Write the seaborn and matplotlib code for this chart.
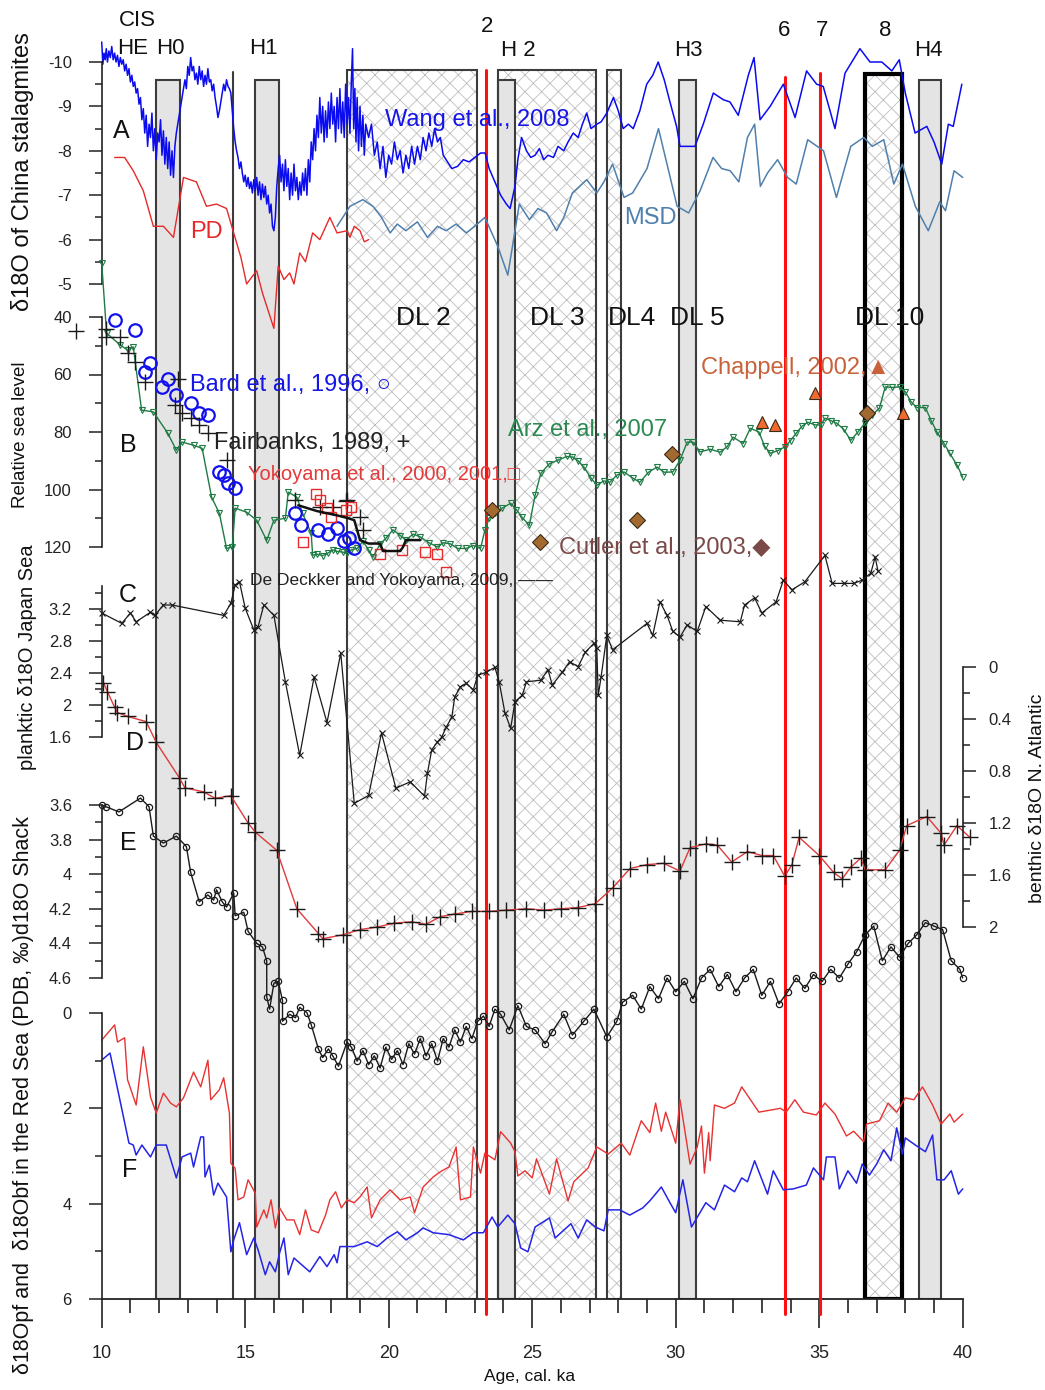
import matplotlib
matplotlib.use("Agg")
import numpy as np
import pandas as pd
import seaborn as sns
import matplotlib.pyplot as plt
from matplotlib.ticker import MultipleLocator, FormatStrFormatter

# ---------------- data (age in ka) ----------------
# A: China stalagmites (Wang et al., 2008), MSD and PD
wang_age = [10.0, 10.04, 10.08, 10.12, 10.16, 10.2, 10.25, 10.3, 10.35, 10.4, 10.45, 10.5, 10.55, 10.6, 10.65, 10.7,
            10.75, 10.8, 10.85, 10.9, 10.95, 11.0, 11.05, 11.1, 11.15, 11.2, 11.25, 11.3, 11.35, 11.4, 11.45, 11.5,
            11.55, 11.6, 11.65, 11.7, 11.75, 11.8, 11.85, 11.9, 11.95, 12.0, 12.05, 12.1, 12.15, 12.2, 12.25, 12.3,
            12.35, 12.4, 12.45, 12.5, 12.55, 12.6, 12.7, 12.8, 12.9, 12.95, 13.0, 13.05, 13.1, 13.15, 13.2, 13.25,
            13.3, 13.35, 13.4, 13.45, 13.5, 13.55, 13.6, 13.65, 13.7, 13.75, 13.8, 13.85, 13.9, 13.95, 14.0, 14.05,
            14.1, 14.15, 14.2, 14.25, 14.3, 14.35, 14.4, 14.45, 14.5, 14.55, 14.6, 14.65, 14.7, 14.75, 14.8, 14.85,
            14.9, 14.95, 15.0, 15.05, 15.1, 15.15, 15.2, 15.25, 15.3, 15.35, 15.4, 15.45, 15.5, 15.55, 15.6, 15.65,
            15.7, 15.75, 15.8, 15.85, 15.9, 15.95, 16.0, 16.05, 16.1, 16.15, 16.2, 16.25, 16.3, 16.35, 16.4, 16.45,
            16.5, 16.55, 16.6, 16.65, 16.7, 16.75, 16.8, 16.85, 16.9, 16.95, 17.0, 17.05, 17.1, 17.15, 17.2, 17.25,
            17.3, 17.35, 17.4, 17.45, 17.5, 17.55, 17.6, 17.65, 17.7, 17.75, 17.8, 17.85, 17.9, 17.95, 18.0, 18.05,
            18.1, 18.15, 18.2, 18.25, 18.3, 18.35, 18.4, 18.45, 18.5, 18.55, 18.6, 18.65, 18.7, 18.74, 18.78, 18.82,
            18.86, 18.9, 18.95, 19.0, 19.05, 19.1, 19.15, 19.2, 19.3, 19.4, 19.5, 19.6, 19.7, 19.8, 19.9, 20.0,
            20.1, 20.2, 20.3, 20.4, 20.5, 20.6, 20.7, 20.8, 20.9, 21.0, 21.1, 21.2, 21.3, 21.4, 21.5, 21.6,
            21.7, 21.8, 21.9, 22.0, 22.1, 22.2, 22.4, 22.6, 22.8, 23.0, 23.2, 23.36, 23.5, 23.7, 23.9, 24.1,
            24.23, 24.4, 24.5, 24.63, 24.8, 24.95, 25.1, 25.25, 25.4, 25.55, 25.74, 25.9, 26.1, 26.25, 26.43, 26.6,
            26.75, 26.9, 27.05, 27.25, 27.4, 27.6, 27.83, 28.0, 28.17, 28.35, 28.52, 28.75, 28.99, 29.2, 29.39, 29.6,
            29.8, 30.03, 30.15, 30.4, 30.67, 30.96, 31.31, 31.66, 31.89, 32.18, 32.53, 32.73, 32.94, 33.29, 33.75, 34.16,
            34.56, 34.91, 35.14, 35.55, 35.9, 36.42, 36.77, 37.18, 37.53, 37.79, 38.0, 38.34, 38.75, 39.0, 39.27, 39.5,
            39.67, 39.97]
wang_val = [-10.45, -9.95, -10.2, -10.05, -10.3, -10.0, -10.25, -10.1, -10.35, -10.05, -10.2, -10.0, -10.15, -9.9, -10.1, -9.95,
            -10.05, -9.8, -9.95, -9.7, -9.85, -9.55, -9.7, -9.45, -9.55, -9.3, -9.4, -9.05, -9.2, -8.7, -8.95, -8.4,
            -8.8, -8.1, -8.6, -8.3, -8.85, -8.0, -8.5, -7.8, -8.4, -8.2, -8.7, -7.9, -8.45, -7.7, -8.3, -7.6,
            -8.2, -7.45, -8.0, -7.4, -8.1, -8.4, -8.8, -9.2, -9.6, -9.4, -9.9, -9.7, -10.1, -9.8, -9.9, -9.6,
            -9.75, -9.5, -9.9, -9.6, -9.8, -9.45, -9.7, -9.5, -9.85, -9.55, -9.6, -9.35, -9.5, -9.2, -9.0, -8.75,
            -8.9, -9.1, -9.3, -9.5, -9.35, -9.6, -9.45, -9.4, -9.3, -8.9, -8.5, -8.2, -8.0, -7.85, -7.6, -7.75,
            -7.5, -7.3, -7.45, -7.2, -7.4, -7.15, -7.3, -7.05, -7.35, -7.1, -7.4, -7.0, -7.3, -6.9, -7.25, -6.95,
            -7.2, -6.8, -7.0, -6.6, -6.8, -6.3, -6.2, -6.5, -7.2, -7.6, -7.9, -7.3, -7.7, -7.1, -7.8, -7.2,
            -7.6, -6.9, -7.5, -7.0, -7.7, -7.1, -7.4, -6.9, -7.3, -7.0, -7.5, -7.1, -7.6, -7.0, -7.8, -7.3,
            -8.2, -7.8, -8.5, -8.0, -8.8, -8.3, -9.2, -8.4, -9.0, -8.2, -8.9, -8.3, -9.1, -8.5, -9.3, -8.6,
            -9.0, -8.2, -9.2, -8.5, -9.4, -8.4, -9.1, -8.3, -9.5, -8.6, -9.2, -8.4, -9.6, -10.3, -8.5, -9.4,
            -8.2, -9.2, -8.0, -9.0, -8.1, -8.8, -7.9, -8.6, -8.3, -8.6, -7.9, -8.2, -7.6, -8.1, -7.4, -7.9,
            -7.7, -8.2, -7.8, -8.0, -7.5, -7.9, -7.6, -8.1, -7.7, -8.1, -7.8, -8.3, -8.0, -8.4, -8.1, -8.5,
            -8.2, -8.3, -7.9, -7.8, -7.7, -7.6, -7.65, -7.8, -7.75, -7.85, -7.95, -7.95, -7.6, -7.3, -7.0, -6.8,
            -6.7, -7.2, -7.8, -8.3, -8.0, -7.85, -7.9, -8.05, -7.8, -7.9, -7.85, -8.1, -8.0, -8.2, -8.4, -8.3,
            -8.6, -8.85, -8.5, -8.6, -8.65, -8.85, -9.2, -8.9, -8.5, -8.6, -8.5, -8.9, -9.5, -9.7, -10.0, -9.6,
            -9.1, -8.55, -8.1, -8.1, -8.1, -8.6, -9.3, -9.15, -9.1, -8.8, -9.7, -10.1, -8.7, -9.0, -9.5, -8.75,
            -9.8, -9.5, -9.45, -8.5, -9.75, -10.3, -10.0, -10.0, -9.8, -10.05, -9.3, -8.4, -8.55, -8.2, -7.7, -8.6,
            -8.55, -9.5]

msd_age = [18.2, 18.65, 19.1, 19.45, 19.75, 20.05, 20.3, 20.6, 21.0, 21.35, 21.7, 22.0, 22.35, 22.7, 23.0, 23.35,
           23.8, 24.15, 24.55, 24.9, 25.2, 25.5, 25.85, 26.1, 26.4, 26.9, 27.25, 27.5, 27.8, 28.2, 28.5, 29.0,
           29.4, 30.05, 30.45, 30.85, 31.3, 31.6, 31.9, 32.2, 32.5, 32.75, 32.95, 33.2, 33.55, 33.9, 34.2, 34.6,
           35.15, 35.6, 36.1, 36.55, 36.85, 37.25, 37.6, 37.9, 38.35, 38.8, 39.2, 39.4, 39.7, 40.0]
msd_val = [-6.3, -6.75, -6.9, -6.75, -6.5, -6.15, -6.35, -6.2, -6.4, -6.05, -6.3, -6.2, -6.35, -6.15, -6.3, -6.5,
           -5.85, -5.2, -6.8, -6.45, -6.7, -6.6, -6.2, -6.5, -7.05, -7.35, -7.05, -7.3, -7.7, -6.95, -7.05, -7.6,
           -8.5, -6.75, -6.6, -7.1, -7.85, -7.6, -7.55, -7.3, -8.3, -8.6, -7.2, -7.5, -7.8, -7.4, -7.25, -8.25,
           -8.0, -6.95, -8.1, -8.3, -8.1, -8.25, -7.25, -7.7, -6.75, -6.2, -6.85, -6.65, -7.55, -7.4]

pd_age = [10.45, 10.8, 11.1, 11.45, 11.8, 12.15, 12.5, 12.85, 13.3, 13.65, 14.0, 14.35, 14.6, 14.85, 15.05, 15.4,
          15.6, 15.75, 16.0, 16.15, 16.35, 16.55, 16.7, 16.9, 17.1, 17.35, 17.6, 17.95, 18.2, 18.55, 18.65, 18.8,
          19.0, 19.15, 19.3]
pd_val = [-7.85, -7.85, -7.55, -7.1, -6.3, -6.3, -6.05, -7.4, -7.3, -6.75, -6.8, -6.7, -6.15, -5.6, -5.0, -5.3,
          -4.8, -4.5, -4.0, -5.4, -5.1, -5.25, -5.0, -5.7, -5.5, -6.15, -6.0, -6.5, -6.15, -6.2, -6.05, -6.3,
          -6.2, -5.95, -6.0]

# B: relative sea level
arz_age = [10.0, 10.17, 10.65, 10.9, 11.1, 11.39, 11.8, 12.3, 12.6, 12.8, 13.2, 13.5, 13.83, 14.1, 14.35, 14.55,
           14.65, 15.05, 15.4, 15.75, 16.0, 16.4, 16.5, 16.8, 17.0, 17.3, 17.35, 17.5, 17.7, 17.9, 18.05, 18.2,
           18.4, 18.55, 18.7, 18.9, 19.1, 19.3, 19.45, 19.7, 19.9, 20.15, 20.4, 20.6, 20.85, 21.1, 21.4, 21.7,
           21.9, 22.15, 22.4, 22.7, 22.95, 23.2, 23.35, 23.5, 23.7, 23.95, 24.25, 24.45, 24.65, 24.9, 25.1, 25.3,
           25.6, 25.9, 26.2, 26.4, 26.6, 26.8, 27.05, 27.25, 27.5, 27.7, 27.95, 28.2, 28.5, 28.75, 29.05, 29.35,
           29.6, 29.9, 30.15, 30.4, 30.6, 30.85, 31.2, 31.55, 31.8, 32.0, 32.35, 32.6, 32.9, 33.1, 33.3, 33.55,
           33.8, 34.0, 34.2, 34.4, 34.6, 34.85, 35.05, 35.2, 35.4, 35.6, 35.85, 36.1, 36.35, 36.6, 36.85, 37.1,
           37.3, 37.55, 37.8, 38.0, 38.2, 38.4, 38.7, 38.9, 39.1, 39.35, 39.55, 39.8, 40.0]
arz_val = [21.2, 45.6, 49.8, 51.5, 50.4, 72.4, 73.0, 80.4, 86.3, 83.5, 84.6, 85.7, 102.7, 108.3, 120.5, 120.0,
           106.5, 107.9, 110.7, 117.7, 110.7, 110.0, 100.9, 102.7, 108.3, 115.3, 122.9, 122.5, 123.0, 122.0, 121.0, 121.5,
           121.8, 122.0, 121.0, 120.5, 118.0, 121.0, 123.5, 119.0, 117.0, 114.0, 116.0, 117.6, 115.5, 116.5, 118.5, 120.0,
           118.5, 118.9, 120.5, 120.5, 119.5, 120.5, 114.2, 110.0, 108.3, 106.5, 104.8, 107.0, 109.7, 112.5, 102.0, 94.4,
           91.0, 89.8, 88.5, 88.7, 90.0, 92.2, 96.0, 98.5, 97.0, 97.5, 95.0, 93.9, 96.0, 97.5, 94.0, 92.2,
           94.0, 93.9, 89.8, 83.5, 83.5, 86.9, 86.0, 87.0, 85.0, 81.8, 84.0, 78.7, 80.0, 85.0, 87.4, 86.5,
           85.2, 83.0, 80.4, 78.0, 76.6, 77.5, 77.6, 75.2, 76.0, 76.9, 79.0, 82.9, 80.0, 76.9, 74.0, 71.7,
           64.3, 64.5, 64.3, 66.0, 69.5, 71.5, 71.5, 76.0, 80.0, 84.0, 87.4, 91.5, 95.7]

bard_age = [10.45, 11.15, 11.7, 11.5, 12.3, 12.1, 12.6, 13.1, 13.4, 13.7, 14.1, 14.25, 14.4, 14.65, 16.75, 16.95,
            17.55, 17.9, 18.2, 18.6, 18.45, 18.8]
bard_val = [41.0, 44.5, 56.0, 59.0, 61.6, 64.4, 67.2, 70.0, 73.5, 74.1, 94.0, 95.0, 97.8, 99.5, 108.3, 112.5,
            114.0, 115.4, 113.3, 117.0, 117.8, 120.5]

fair_age = [9.1, 10.15, 10.15, 10.65, 10.9, 11.15, 11.5, 12.65, 12.55, 12.8, 13.1, 13.4, 13.7, 14.35, 16.75, 17.6,
            18.05, 18.5, 18.55, 19.0, 19.1]
fair_val = [45.0, 44.0, 47.0, 47.0, 52.6, 55.6, 62.6, 61.6, 70.7, 73.5, 75.3, 77.6, 80.5, 89.6, 103.8, 106.2,
            106.0, 104.0, 103.7, 109.6, 114.2]

yoko_age = [17.45, 17.0, 17.6, 17.85, 18.0, 18.5, 18.7, 19.7, 20.45, 21.25, 21.7, 22.0]
yoko_val = [101.4, 118.4, 103.8, 106.6, 109.6, 107.3, 106.0, 122.3, 121.1, 121.8, 122.3, 128.8]

dedeck_age = [16.85, 17.5, 18.2, 18.6, 18.8, 19.0, 19.3, 19.7, 19.8, 20.4, 20.5, 20.6, 21.1]
dedeck_val = [105.5, 107.5, 109.0, 110.0, 110.7, 117.6, 118.8, 118.8, 121.4, 121.4, 120.0, 117.6, 117.6]

cutler_age = [23.59, 25.28, 28.64, 29.86, 36.68]
cutler_val = [107.2, 118.4, 110.7, 87.7, 73.4]

chappell_age = [33.0, 33.45, 34.85, 37.92]
chappell_val = [76.5, 77.6, 66.6, 73.4]

# C: planktic d18O Japan Sea
japan_age = [10.0, 10.7, 11.0, 11.2, 11.7, 11.85, 12.15, 12.45, 14.25, 14.5, 14.65, 14.8, 15.0, 15.3, 15.45, 15.65,
             16.0, 16.4, 16.9, 17.4, 17.85, 18.33, 18.8, 19.3, 19.75, 20.25, 20.75, 21.25, 21.35, 21.5, 21.7, 21.85,
             22.0, 22.2, 22.3, 22.5, 22.7, 22.95, 23.1, 23.4, 23.7, 23.85, 24.05, 24.25, 24.4, 24.65, 24.8, 25.3,
             25.55, 25.7, 26.05, 26.3, 26.6, 26.85, 27.15, 27.25, 27.3, 27.4, 27.6, 27.8, 29.0, 29.2, 29.45, 29.7,
             29.9, 30.15, 30.4, 30.75, 31.05, 31.55, 32.25, 32.4, 32.75, 33.0, 33.5, 33.75, 34.05, 34.5, 35.2, 35.45,
             35.85, 36.2, 36.5, 36.8, 36.95, 37.05]
japan_val = [3.15, 3.02, 3.15, 3.04, 3.16, 3.12, 3.25, 3.25, 3.12, 3.27, 3.5, 3.54, 3.21, 2.94, 2.98, 3.25,
             3.12, 2.29, 1.37, 2.35, 1.78, 2.65, 0.77, 0.87, 1.65, 0.96, 1.04, 0.86, 1.15, 1.44, 1.54, 1.6,
             1.72, 1.85, 2.1, 2.23, 2.27, 2.19, 2.37, 2.41, 2.47, 2.29, 1.9, 1.71, 2.04, 2.12, 2.29, 2.31,
             2.44, 2.25, 2.41, 2.54, 2.48, 2.66, 2.77, 2.71, 2.12, 2.35, 2.87, 2.69, 3.02, 2.87, 3.29, 3.12,
             2.92, 2.85, 3.0, 2.92, 3.23, 3.06, 3.04, 3.25, 3.34, 3.15, 3.29, 3.56, 3.44, 3.54, 3.87, 3.52,
             3.52, 3.52, 3.56, 3.65, 3.85, 3.67]

# D: benthic d18O N. Atlantic
natl_age = [10.06, 10.2, 10.45, 10.55, 10.9, 11.55, 11.9, 12.7, 12.9, 13.55, 13.95, 14.5, 15.1, 15.35, 16.1, 16.8,
            17.55, 17.7, 18.4, 19.0, 19.6, 20.2, 20.8, 21.3, 21.8, 22.3, 22.9, 23.5, 24.1, 24.8, 25.4, 26.0,
            26.6, 27.2, 27.8, 28.41, 29.0, 29.58, 30.15, 30.5, 31.05, 31.45, 31.95, 32.5, 33.0, 33.4, 33.8, 34.05,
            34.3, 35.0, 35.5, 35.8, 36.1, 36.45, 36.6, 37.3, 37.8, 38.05, 38.75, 39.25, 39.35, 39.8, 40.25]
natl_val = [0.12, 0.19, 0.31, 0.35, 0.38, 0.42, 0.58, 0.85, 0.93, 0.96, 1.01, 0.99, 1.2, 1.27, 1.41, 1.86,
            2.05, 2.09, 2.06, 2.02, 2.0, 1.97, 1.96, 1.98, 1.92, 1.9, 1.88, 1.88, 1.87, 1.86, 1.87, 1.86,
            1.85, 1.82, 1.7, 1.55, 1.52, 1.51, 1.57, 1.39, 1.36, 1.37, 1.5, 1.42, 1.45, 1.45, 1.61, 1.52,
            1.31, 1.45, 1.58, 1.63, 1.54, 1.47, 1.56, 1.56, 1.41, 1.22, 1.15, 1.28, 1.37, 1.22, 1.31]

# E: d18O Shackleton
shack_age = [10.0, 10.15, 10.6, 11.35, 11.65, 11.8, 12.15, 12.6, 12.95, 13.1, 13.4, 13.7, 13.9, 14.0, 14.2, 14.35,
             14.6, 14.65, 14.95, 15.1, 15.4, 15.6, 15.75, 15.75, 15.85, 16.0, 16.15, 16.3, 16.3, 16.55, 16.75, 16.9,
             17.15, 17.3, 17.55, 17.7, 17.9, 18.05, 18.25, 18.55, 18.7, 18.9, 19.1, 19.3, 19.5, 19.7, 19.9, 20.1,
             20.3, 20.5, 20.7, 20.9, 21.1, 21.3, 21.5, 21.7, 21.9, 22.1, 22.3, 22.5, 22.7, 22.9, 23.1, 23.3,
             23.5, 23.7, 23.9, 24.2, 24.5, 24.8, 25.1, 25.45, 25.7, 26.1, 26.4, 26.8, 27.15, 27.6, 27.95, 28.15,
             28.5, 28.8, 29.1, 29.4, 29.7, 30.0, 30.3, 30.6, 30.9, 31.2, 31.5, 31.8, 32.1, 32.4, 32.7, 33.0,
             33.3, 33.6, 33.9, 34.2, 34.5, 34.8, 35.1, 35.4, 35.7, 36.0, 36.3, 36.6, 36.9, 37.2, 37.5, 37.8,
             38.1, 38.4, 38.7, 39.0, 39.3, 39.6, 39.9, 40.0]
shack_val = [3.6, 3.61, 3.64, 3.56, 3.61, 3.78, 3.82, 3.78, 3.84, 3.99, 4.16, 4.12, 4.15, 4.09, 4.16, 4.19,
             4.11, 4.24, 4.22, 4.33, 4.4, 4.42, 4.5, 4.71, 4.78, 4.63, 4.62, 4.73, 4.85, 4.81, 4.83, 4.77,
             4.8, 4.87, 5.01, 5.06, 5.01, 5.05, 5.11, 4.97, 5.0, 5.08, 5.02, 5.1, 5.05, 5.12, 5.0, 5.07,
             5.02, 5.1, 4.98, 5.04, 4.95, 5.05, 4.98, 5.08, 4.95, 5.0, 4.9, 4.97, 4.88, 4.95, 4.85, 4.82,
             4.88, 4.78, 4.81, 4.9, 4.76, 4.88, 4.9, 4.98, 4.91, 4.81, 4.93, 4.85, 4.78, 4.94, 4.85, 4.74,
             4.7, 4.78, 4.65, 4.72, 4.6, 4.68, 4.62, 4.72, 4.6, 4.55, 4.65, 4.58, 4.68, 4.6, 4.55, 4.7,
             4.62, 4.75, 4.68, 4.6, 4.66, 4.58, 4.62, 4.55, 4.6, 4.52, 4.45, 4.35, 4.3, 4.5, 4.42, 4.48,
             4.4, 4.35, 4.28, 4.3, 4.32, 4.5, 4.55, 4.6]

# F: Red Sea planktic (pf) and benthic (bf)
pf_age = [10.0, 10.45, 10.55, 10.8, 10.9, 11.2, 11.45, 11.7, 11.9, 12.15, 12.4, 12.6, 12.85, 13.2, 13.45, 13.7,
          13.8, 14.1, 14.25, 14.45, 14.5, 14.65, 14.75, 14.95, 15.1, 15.35, 15.4, 15.65, 15.75, 15.9, 16.05, 16.2,
          16.45, 16.7, 16.9, 17.1, 17.3, 17.55, 17.8, 17.95, 18.15, 18.35, 18.55, 18.8, 19.0, 19.25, 19.4, 19.7,
          20.05, 20.4, 20.75, 20.9, 21.2, 21.55, 21.8, 22.1, 22.35, 22.5, 22.85, 22.95, 23.2, 23.35, 23.7, 23.9,
          24.25, 24.4, 24.5, 24.75, 25.0, 25.15, 25.6, 25.85, 26.25, 26.45, 26.95, 27.25, 27.65, 28.1, 28.4, 28.8,
          29.1, 29.3, 29.5, 29.65, 30.0, 30.15, 30.5, 30.75, 30.9, 31.0, 31.15, 31.2, 31.35, 31.7, 32.05, 32.3,
          32.9, 33.65, 33.85, 34.15, 34.45, 34.9, 35.2, 35.55, 35.95, 36.2, 36.55, 36.65, 37.1, 37.4, 37.7, 38.0,
          38.3, 38.6, 38.95, 39.25, 39.55, 39.7, 40.0]
pf_val = [0.57, 0.25, 0.61, 0.52, 1.4, 1.93, 0.71, 1.76, 2.1, 1.68, 1.89, 1.97, 1.78, 1.24, 1.55, 0.99,
          1.82, 1.61, 1.36, 2.1, 3.15, 3.26, 3.92, 3.86, 3.5, 3.78, 4.49, 4.13, 4.3, 3.92, 4.51, 4.09,
          4.34, 4.34, 4.65, 4.13, 4.55, 4.61, 4.24, 3.92, 3.75, 4.09, 3.92, 3.98, 3.86, 3.65, 4.3, 3.92,
          3.71, 3.92, 3.86, 4.19, 3.65, 3.44, 3.33, 3.23, 2.81, 3.92, 3.86, 2.81, 3.36, 2.94, 3.08, 2.49,
          2.73, 2.91, 3.42, 3.31, 3.46, 3.06, 3.8, 3.06, 3.94, 3.54, 3.25, 2.81, 2.96, 2.73, 2.98, 2.26,
          2.51, 1.89, 2.48, 2.08, 2.73, 1.82, 3.17, 2.81, 2.37, 3.36, 2.51, 3.1, 1.93, 2.0, 1.89, 1.55,
          2.08, 2.0, 2.08, 1.82, 2.08, 2.14, 1.89, 2.12, 2.58, 2.48, 2.7, 2.33, 2.26, 1.89, 2.08, 1.78,
          1.82, 1.55, 1.93, 2.33, 2.12, 2.29, 2.12]

bf_age = [10.0, 10.29, 10.95, 11.1, 11.2, 11.4, 11.7, 11.9, 12.25, 12.6, 12.8, 13.1, 13.2, 13.45, 13.55, 13.6,
          13.75, 13.9, 14.05, 14.35, 14.5, 14.6, 14.8, 15.05, 15.3, 15.45, 15.7, 15.85, 16.05, 16.2, 16.35, 16.5,
          16.7, 17.25, 17.6, 17.85, 18.1, 18.2, 18.3, 18.8, 19.25, 19.6, 19.95, 20.3, 20.6, 21.0, 21.2, 21.55,
          22.1, 22.6, 22.95, 23.3, 23.6, 23.8, 24.15, 24.4, 24.6, 24.85, 25.1, 25.6, 25.8, 26.35, 26.6, 26.9,
          27.2, 27.5, 27.65, 28.05, 28.4, 28.85, 29.1, 29.5, 29.8, 30.0, 30.25, 30.55, 31.05, 31.35, 31.7, 32.05,
          32.3, 32.5, 32.75, 33.2, 33.4, 33.75, 34.1, 34.55, 34.8, 35.15, 35.25, 35.55, 35.7, 36.0, 36.3, 36.5,
          36.75, 37.0, 37.25, 37.5, 37.7, 37.9, 38.0, 38.35, 38.7, 38.95, 39.1, 39.35, 39.6, 39.85, 40.0]
bf_val = [0.99, 0.84, 2.73, 2.77, 2.98, 2.77, 3.02, 2.77, 2.77, 3.46, 3.02, 2.94, 3.23, 2.6, 2.6, 3.44,
          3.19, 3.82, 3.57, 3.86, 5.01, 4.76, 4.4, 5.07, 4.72, 4.97, 5.49, 5.22, 5.43, 5.03, 4.72, 5.49,
          5.14, 5.43, 5.11, 5.32, 5.07, 5.24, 4.9, 4.9, 4.8, 4.9, 4.72, 4.59, 4.76, 4.61, 4.51, 4.61,
          4.65, 4.76, 4.61, 4.61, 4.28, 4.49, 4.24, 4.42, 4.93, 5.01, 4.49, 4.3, 4.72, 4.42, 4.72, 4.34,
          4.49, 4.57, 4.13, 4.13, 4.24, 4.09, 3.94, 3.65, 3.98, 4.19, 3.5, 4.49, 3.98, 4.13, 3.61, 3.75,
          3.46, 3.54, 3.1, 3.8, 3.31, 3.71, 3.69, 3.61, 3.25, 3.5, 3.02, 3.02, 3.69, 3.31, 3.57, 3.17,
          3.4, 3.17, 2.87, 3.1, 2.41, 2.96, 2.62, 2.77, 2.91, 2.56, 3.5, 3.5, 3.31, 3.8, 3.69]

# event bands
grey_bands = [(11.9, 12.73), (15.35, 16.18), (23.81, 24.4), (30.12, 30.71), (38.46, 39.25)]
hatch_bands = [(18.55, 23.08), (23.81, 27.23), (27.59, 28.09)]
dl10_band = (36.6, 37.89)
black_lines = [14.58]
red_lines = [23.38, 33.81, 35.03]

# ---------------- layout helpers ----------------
sns.set_theme(style="white")
plt.rcParams['font.family'] = ['Liberation Sans', 'DejaVu Sans']
plt.rcParams['axes.unicode_minus'] = False
plt.rcParams['hatch.linewidth'] = 0.6

W, H = 1045, 1390
X0, X1 = 101.7, 962.7
TOP, BOT = 60, 1299
INK = '#222222'

fig = plt.figure(figsize=(W / 100, H / 100), dpi=100)


def rect(top, bottom):
    return [X0 / W, 1 - bottom / H, (X1 - X0) / W, (bottom - top) / H]


def ftext(x, y, s, **kw):
    kw.setdefault('ha', 'center')
    kw.setdefault('va', 'center')
    fig.text(x / W, 1 - y / H, s, **kw)


def frac(ypx):
    return (BOT - ypx) / (BOT - TOP)


def panel(top, bottom, ylim, major, minor, side='left'):
    ax = fig.add_axes(rect(top, bottom))
    ax.set_facecolor('none')
    ax.set_xlim(10, 40)
    ax.set_ylim(*ylim)
    for s in ['top', 'bottom', 'left', 'right']:
        ax.spines[s].set_visible(s == side)
    ax.spines[side].set_color(INK)
    ax.spines[side].set_linewidth(1.2)
    ax.xaxis.set_visible(False)
    ax.yaxis.set_major_locator(MultipleLocator(major))
    ax.yaxis.set_minor_locator(MultipleLocator(minor))
    ax.yaxis.set_major_formatter(FormatStrFormatter('%g'))
    left = side == 'left'
    ax.tick_params(axis='y', which='both', left=left, right=not left, labelleft=left,
                   labelright=not left, direction='out', color=INK, width=1.1)
    ax.tick_params(axis='y', which='major', length=9.5, labelsize=12, pad=12 if left else 9,
                   labelcolor=INK)
    ax.tick_params(axis='y', which='minor', length=5)
    return ax


def line(ax, x, y, color, lw=1.0, **kw):
    sns.lineplot(x=x, y=y, ax=ax, color=color, linewidth=lw, estimator=None, sort=False,
                 clip_on=False, **kw)
    ax.set_xlabel('')
    ax.set_ylabel('')


def points(ax, x, y, marker, color, ms, mfc='none', mew=1.0):
    line(ax, x, y, color, lw=0, linestyle='none', marker=marker, markersize=ms,
         markerfacecolor=mfc, markeredgecolor=color if mfc == 'none' else '#3a2a1a',
         markeredgewidth=mew)


# ---------------- background: event bands and age axis ----------------
bg = fig.add_axes(rect(TOP, BOT))
bg.set_xlim(10, 40)
bg.set_ylim(0, 1)
for s in ['top', 'left', 'right']:
    bg.spines[s].set_visible(False)
bg.spines['bottom'].set_color(INK)
bg.spines['bottom'].set_linewidth(1.3)
bg.set_yticks([])
bg.xaxis.set_major_locator(MultipleLocator(5))
bg.xaxis.set_minor_locator(MultipleLocator(1))
bg.tick_params(axis='x', which='both', bottom=True, direction='out', color=INK, width=1.2)
bg.tick_params(axis='x', which='major', length=21, labelsize=13, pad=12, labelcolor=INK)
bg.tick_params(axis='x', which='minor', length=10)

for a, b in hatch_bands:
    bg.axvspan(a, b, ymin=0, ymax=frac(70), facecolor='white', edgecolor='#bdbdbd',
               hatch='xx', lw=0.3, zorder=0)
    bg.axvspan(a, b, ymin=0, ymax=frac(70), fill=False, edgecolor='#3c3c3c', lw=1.5, zorder=2)
bg.axvspan(*dl10_band, ymin=0, ymax=frac(74), facecolor='white', edgecolor='#bdbdbd',
           hatch='xx', lw=0.3, zorder=0)
bg.axvspan(*dl10_band, ymin=0, ymax=frac(74), fill=False, edgecolor='black', lw=3, zorder=2)
for a, b in grey_bands:
    bg.axvspan(a, b, ymin=0, ymax=frac(80), facecolor='#e4e4e4', edgecolor='#3c3c3c',
               lw=1.5, zorder=1)
for x in black_lines:
    bg.axvline(x, ymin=0, ymax=frac(72), color='#3c3c3c', lw=1.5, zorder=2)
for x, top in zip(red_lines, [70, 77, 73]):
    bg.axvline(x, ymin=-0.012, ymax=frac(top), color='#ff1010', lw=2.2, zorder=3, clip_on=False)

# ---------------- A: China stalagmites ----------------
axA = panel(62, 284, (-5, -10), 1, 0.5)
line(axA, msd_age, msd_val, '#4f80ad', 1.1)
line(axA, pd_age, pd_val, '#e62a2a', 1.0)
line(axA, wang_age, wang_val, '#0b0bf0', 1.1)

# ---------------- B: relative sea level ----------------
axB = panel(317, 547, (120, 40), 20, 10)
line(axB, arz_age, arz_val, '#1f7b45', 1.0, marker='v', markersize=4.2,
     markerfacecolor='none', markeredgecolor='#1f7b45', markeredgewidth=0.8)
points(axB, bard_age, bard_val, 'o', '#1111ee', 9, mew=1.6)
points(axB, fair_age, fair_val, '+', '#1a1a1a', 11, mew=1.0)
points(axB, yoko_age, yoko_val, 's', '#e52b2b', 7.5, mew=1.0)
line(axB, dedeck_age, dedeck_val, '#111111', 1.8)
points(axB, cutler_age, cutler_val, 'D', '#a36a30', 8, mfc='#a36a30', mew=0.8)
points(axB, chappell_age, chappell_val, '^', '#f26a2c', 9, mfc='#f26a2c', mew=0.8)

# ---------------- C: Japan Sea ----------------
axC = panel(586, 737, (1.6, 3.2 + 23 / 80), 0.4, 0.2)
line(axC, japan_age, japan_val, '#1a1a1a', 0.9, marker='x', markersize=5,
     markeredgecolor='#1a1a1a', markeredgewidth=0.8)

# ---------------- D: N. Atlantic benthic (right axis) ----------------
axD = panel(667, 927, (2, 0), 0.4, 0.2, side='right')
line(axD, natl_age, natl_val, '#e03a3a', 1.0, marker='+', markersize=11,
     markeredgecolor='#1a1a1a', markeredgewidth=1.0)

# ---------------- E: Shackleton ----------------
axE = panel(805, 978, (4.6, 3.6), 0.2, 0.1)
line(axE, shack_age, shack_val, '#1a1a1a', 1.0, marker='o', markersize=4.5,
     markerfacecolor='none', markeredgecolor='#1a1a1a', markeredgewidth=0.9)

# ---------------- F: Red Sea ----------------
axF = panel(1013, 1299, (6, 0), 2, 1)
line(axF, pf_age, pf_val, '#e83232', 1.0)
line(axF, bf_age, bf_val, '#2424e6', 1.1)

# ---------------- texts ----------------
for s, x, y in [('CIS', 137, 20), ('HE', 133, 48), ('H0', 170, 48), ('H1', 263, 48), ('2', 487, 27),
                ('H 2', 518, 50), ('H3', 688, 50), ('6', 784, 30), ('7', 822, 30), ('8', 885, 30),
                ('H4', 928, 50)]:
    ftext(x, y, s, fontsize=16, color='#111111')
for s, x in [('DL 2', 423), ('DL 3', 557), ('DL4', 632), ('DL 5', 697), ('DL 10', 890)]:
    ftext(x, 318, s, fontsize=19, color='#111111')
for s, x, y in [('A', 121, 131), ('B', 128, 445), ('C', 128, 595), ('D', 135, 743), ('E', 128, 843),
                ('F', 130, 1170)]:
    ftext(x, y, s, fontsize=18, color='#111111')

ftext(385, 120, 'Wang et al., 2008', fontsize=17, color='#1515e8', ha='left')
ftext(190, 232, 'PD', fontsize=17, color='#e62a2a', ha='left')
ftext(624, 218, 'MSD', fontsize=17, color='#4f80ad', ha='left')
ftext(190, 385, 'Bard et al., 1996, \u25cb', fontsize=17, color='#1515e8', ha='left')
ftext(214, 443, 'Fairbanks, 1989, +', fontsize=17, color='#222222', ha='left')
ftext(248, 475, 'Yokoyama et al., 2000, 2001,\u25a1', fontsize=14.5, color='#e53a3a', ha='left')
ftext(508, 430, 'Arz et al., 2007', fontsize=17, color='#2a8a52', ha='left')
ftext(559, 548, 'Cutler et al., 2003,\u25c6', fontsize=17, color='#7b4a48', ha='left')
ftext(701, 368, 'Chappell, 2002,\u25b2', fontsize=17, color='#c8623a', ha='left')
ftext(250, 580, 'De Deckker and Yokoyama, 2009, \u2014\u2014', fontsize=12.5, color='#222222', ha='left')

# axis titles
ftext(23, 172, '\u03b418O of China stalagmites', fontsize=17, rotation=90, color='#111111')
ftext(21, 435, 'Relative sea level', fontsize=13.5, rotation=90, color='#111111')
ftext(28, 657, 'planktic \u03b418O Japan Sea', fontsize=14.5, rotation=90, color='#111111')
ftext(24, 1095, '\u03b418Opf and  \u03b418Obf in the Red Sea (PDB, \u2030)d18O Shack', fontsize=15.5,
      rotation=90, color='#111111')
ftext(1038, 798, 'benthic \u03b418O N. Atlantic', fontsize=14, rotation=90, color='#111111')
ftext(530, 1376, 'Age, cal. ka', fontsize=12.5, color='#111111')

fig.savefig('out.png', dpi=100)
